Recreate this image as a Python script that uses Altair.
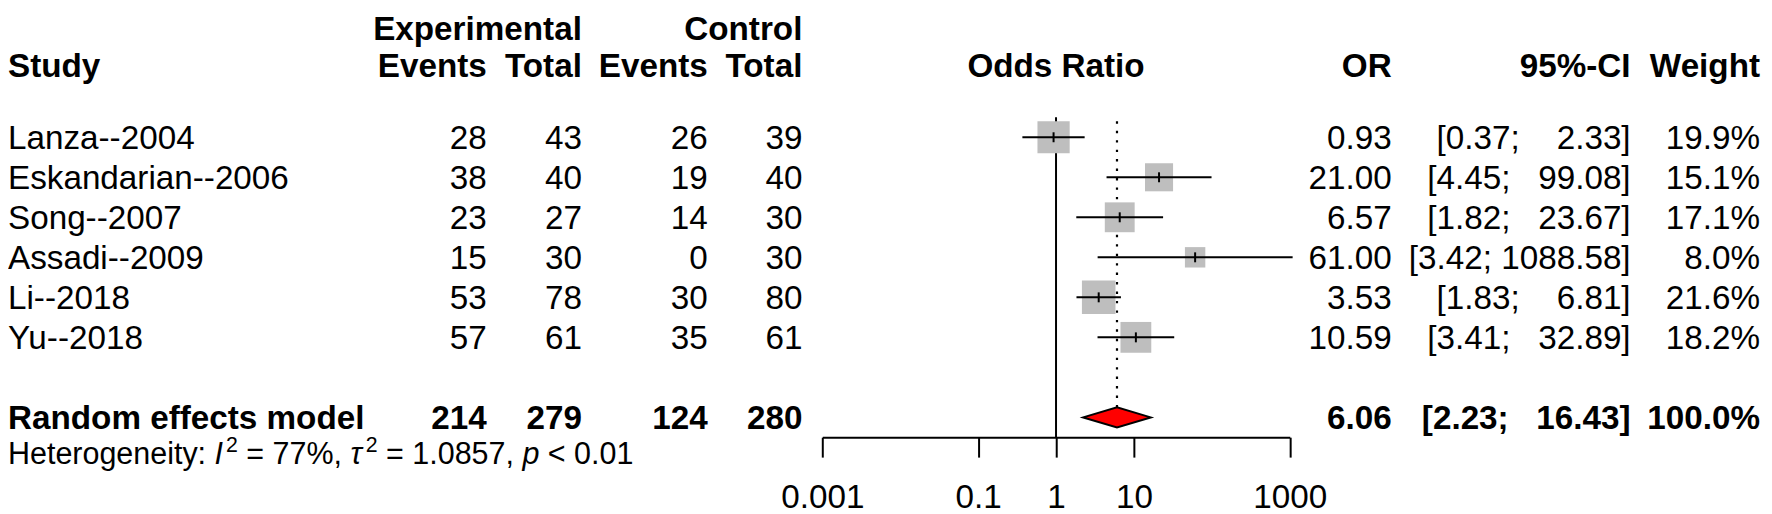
import altair as alt
import pandas as pd

# ---------------- data ----------------
studies = ["Lanza--2004", "Eskandarian--2006", "Song--2007",
           "Assadi--2009", "Li--2018", "Yu--2018"]
exp_events = [28, 38, 23, 15, 53, 57]
exp_total = [43, 40, 27, 30, 78, 61]
ctrl_events = [26, 19, 14, 0, 30, 35]
ctrl_total = [39, 40, 30, 30, 80, 61]
odds_ratio = [0.93, 21.00, 6.57, 61.00, 3.53, 10.59]
ci_lower = [0.37, 4.45, 1.82, 3.42, 1.83, 3.41]
ci_upper = [2.33, 99.08, 23.67, 1088.58, 6.81, 32.89]
weights = [19.9, 15.1, 17.1, 8.0, 21.6, 18.2]

pooled_label = "Random effects model"
pooled_counts = [214, 279, 124, 280]
pooled_or = 6.06
pooled_ci = [2.23, 16.43]
pooled_weight = 100.0

het_i2 = "77%"
het_tau2 = "1.0857"
het_p = "0.01"

axis_ticks = [0.001, 0.1, 1, 10, 1000]

# ---------------- layout (pixels inside the view) ----------------
FONT = "Liberation Sans"
FS = 33.4
FS_HET = 30.6
FS_SUP = 21.4
W, H = 1764, 430
X_STUDY, X_EE, X_ET, X_CE, X_CT = 0, 481, 576.5, 703, 798
X_OR, X_HI, X_W = 1390, 1630, 1760
X_RANGE = [818, 1287.6]
ROW_Y0, ROW_DY = 128.7, 40.2
TEXT_DY = 11.8
HDR1_Y, HDR2_Y = 30.5, 68
HET_Y = 457
NBSP = "\u00a0"

n = len(studies)
RE_ROW = n + 1
ci_width = max(len(f"{v:.2f}") for v in ci_upper + [pooled_ci[1]])


def ci_text(lo, hi):
    hs = f"{hi:.2f}"
    return f"[{lo:.2f};" + NBSP * (1 + ci_width - len(hs)) + hs + "]"


study_df = pd.DataFrame({
    "row": list(range(n)),
    "study": studies,
    "ee": [str(v) for v in exp_events],
    "et": [str(v) for v in exp_total],
    "ce": [str(v) for v in ctrl_events],
    "ct": [str(v) for v in ctrl_total],
    "or": odds_ratio,
    "lo": ci_lower,
    "hi": ci_upper,
    "w": weights,
    "or_s": [f"{v:.2f}" for v in odds_ratio],
    "ci_s": [ci_text(a, b) for a, b in zip(ci_lower, ci_upper)],
    "w_s": [f"{v:.1f}%" for v in weights],
})

pooled_df = pd.DataFrame({
    "row": [RE_ROW],
    "study": [pooled_label],
    "ee": [str(pooled_counts[0])],
    "et": [str(pooled_counts[1])],
    "ce": [str(pooled_counts[2])],
    "ct": [str(pooled_counts[3])],
    "or_s": [f"{pooled_or:.2f}"],
    "ci_s": [ci_text(pooled_ci[0], pooled_ci[1])],
    "w_s": [f"{pooled_weight:.1f}%"],
})

diamond_df = pd.DataFrame({
    "x": [pooled_ci[0], pooled_or, pooled_ci[1]],
    "y": [RE_ROW, RE_ROW - 0.25, RE_ROW],
    "y2": [RE_ROW, RE_ROW + 0.25, RE_ROW],
})

ref_df = pd.DataFrame({"x": [1], "y": [-0.5], "y2": [RE_ROW + 0.5]})
pooled_line_df = pd.DataFrame({"x": [pooled_or], "y": [RE_ROW - 0.25], "y2": [-0.5]})

# ---------------- scales ----------------
x_scale = alt.Scale(type="log", domain=[0.001, 1000], range=X_RANGE)
y_scale = alt.Scale(domain=[0, RE_ROW], range=[ROW_Y0, ROW_Y0 + ROW_DY * RE_ROW])
x_axis = alt.Axis(values=axis_ticks, format="~g", title=None, grid=False,
                  domainColor="black", domainWidth=2, tickColor="black",
                  tickWidth=2, tickSize=20, labelFont=FONT, labelFontSize=FS,
                  labelColor="black", labelPadding=24.8, labelOverlap=False,
                  labelFlush=False)


def X(field):
    return alt.X(field, scale=x_scale, axis=x_axis)


def Y(field):
    return alt.Y(field, scale=y_scale, axis=None, stack=None)


layers = []

# reference lines
layers.append(alt.Chart(ref_df).mark_rule(color="black", strokeWidth=2).encode(
    x=X("x:Q"), y=Y("y:Q"), y2="y2:Q"))
layers.append(alt.Chart(pooled_line_df).mark_rule(
    color="black", strokeWidth=2.2, strokeDash=[2.4, 7.1]).encode(
    x=X("x:Q"), y=Y("y:Q"), y2="y2:Q"))

# squares (area proportional to weight)
max_w = max(weights)
layers.append(alt.Chart(study_df).mark_square(
    color="#BEBEBE", opacity=1, strokeWidth=0).encode(
    x=X("or:Q"), y=Y("row:Q"),
    size=alt.Size("w:Q", scale=alt.Scale(type="linear", domain=[0, max_w],
                                         range=[0, 52.6 * max_w]), legend=None)))

# confidence intervals
layers.append(alt.Chart(study_df).mark_rule(color="black", strokeWidth=2).encode(
    x=X("lo:Q"), x2="hi:Q", y=Y("row:Q")))

# estimate ticks
layers.append(alt.Chart(study_df).mark_tick(
    orient="vertical", color="black", thickness=2, size=10, opacity=1).encode(
    x=X("or:Q"), y=Y("row:Q")))

# diamond for the pooled estimate
layers.append(alt.Chart(diamond_df).mark_area(
    orient="vertical", color="#FF0000", fillOpacity=1, opacity=1,
    stroke="black", strokeWidth=2).encode(
    x=X("x:Q"), y=Y("y:Q"), y2="y2:Q"))

# table text
columns = [("study", X_STUDY, "left"), ("ee", X_EE, "right"), ("et", X_ET, "right"),
           ("ce", X_CE, "right"), ("ct", X_CT, "right"), ("or_s", X_OR, "right"),
           ("ci_s", X_HI, "right"), ("w_s", X_W, "right")]
for df, weight in [(study_df, "normal"), (pooled_df, "bold")]:
    for field, xp, align in columns:
        layers.append(alt.Chart(df).mark_text(
            align=align, baseline="alphabetic", dy=TEXT_DY, font=FONT,
            fontSize=FS, fontWeight=weight, color="black").encode(
            x=alt.value(xp), y=Y("row:Q"), text=alt.Text(f"{field}:N")))

one = pd.DataFrame({"a": [0]})


def label(text, xp, yp, align="left", size=FS, weight="normal", style="normal"):
    return alt.Chart(one).mark_text(
        text=text, align=align, baseline="alphabetic", font=FONT, fontSize=size,
        fontWeight=weight, fontStyle=style, color="black").encode(
        x=alt.value(xp), y=alt.value(yp))


# headers
layers.append(label("Experimental", X_ET, HDR1_Y, "right", weight="bold"))
layers.append(label("Control", X_CT, HDR1_Y, "right", weight="bold"))
layers.append(label("Study", X_STUDY, HDR2_Y, "left", weight="bold"))
for txt, xp in [("Events", X_EE), ("Total", X_ET), ("Events", X_CE), ("Total", X_CT),
                ("OR", X_OR), ("95%-CI", X_HI), ("Weight", X_W)]:
    layers.append(label(txt, xp, HDR2_Y, "right", weight="bold"))
layers.append(label("Odds Ratio", (X_RANGE[0] + X_RANGE[1]) / 2, HDR2_Y, "center",
                    weight="bold"))

# heterogeneity line (positions from Liberation Sans advance widths)
em = FS_HET
sp = 0.278 * em
x = 0.0
het_parts = []
het_parts.append(("Heterogeneity:", x, FS_HET, "normal", 0)); x += 6.781 * em
het_parts.append(("I", x, FS_HET, "italic", 0)); x += 0.278 * em + 3
het_parts.append(("2", x, FS_SUP, "normal", -12)); x += 0.556 * FS_SUP + sp
het_parts.append((f"= {het_i2},", x, FS_HET, "normal", 0)); x += 3.141 * em + sp
het_parts.append(("\u03c4", x, FS_HET, "italic", 0)); x += 0.47 * em + 1
het_parts.append(("2", x, FS_SUP, "normal", -12)); x += 0.556 * FS_SUP + sp
het_parts.append((f"= {het_tau2},", x, FS_HET, "normal", 0)); x += 4.198 * em + sp
het_parts.append(("p", x, FS_HET, "italic", 0)); x += 0.556 * em + sp
het_parts.append((f"< {het_p}", x, FS_HET, "normal", 0))
for txt, xp, size, style, dy in het_parts:
    layers.append(label(txt, X_STUDY + xp, HET_Y + dy, "left", size=size, style=style))

chart = alt.layer(*layers).properties(
    width=W, height=H,
    padding={"left": 0, "top": 0, "right": 0, "bottom": 76},
    autosize=alt.AutoSizeParams(type="none"),
).configure_view(stroke=None)

chart.save("out.html", embed_options={"renderer": "svg", "actions": False})
